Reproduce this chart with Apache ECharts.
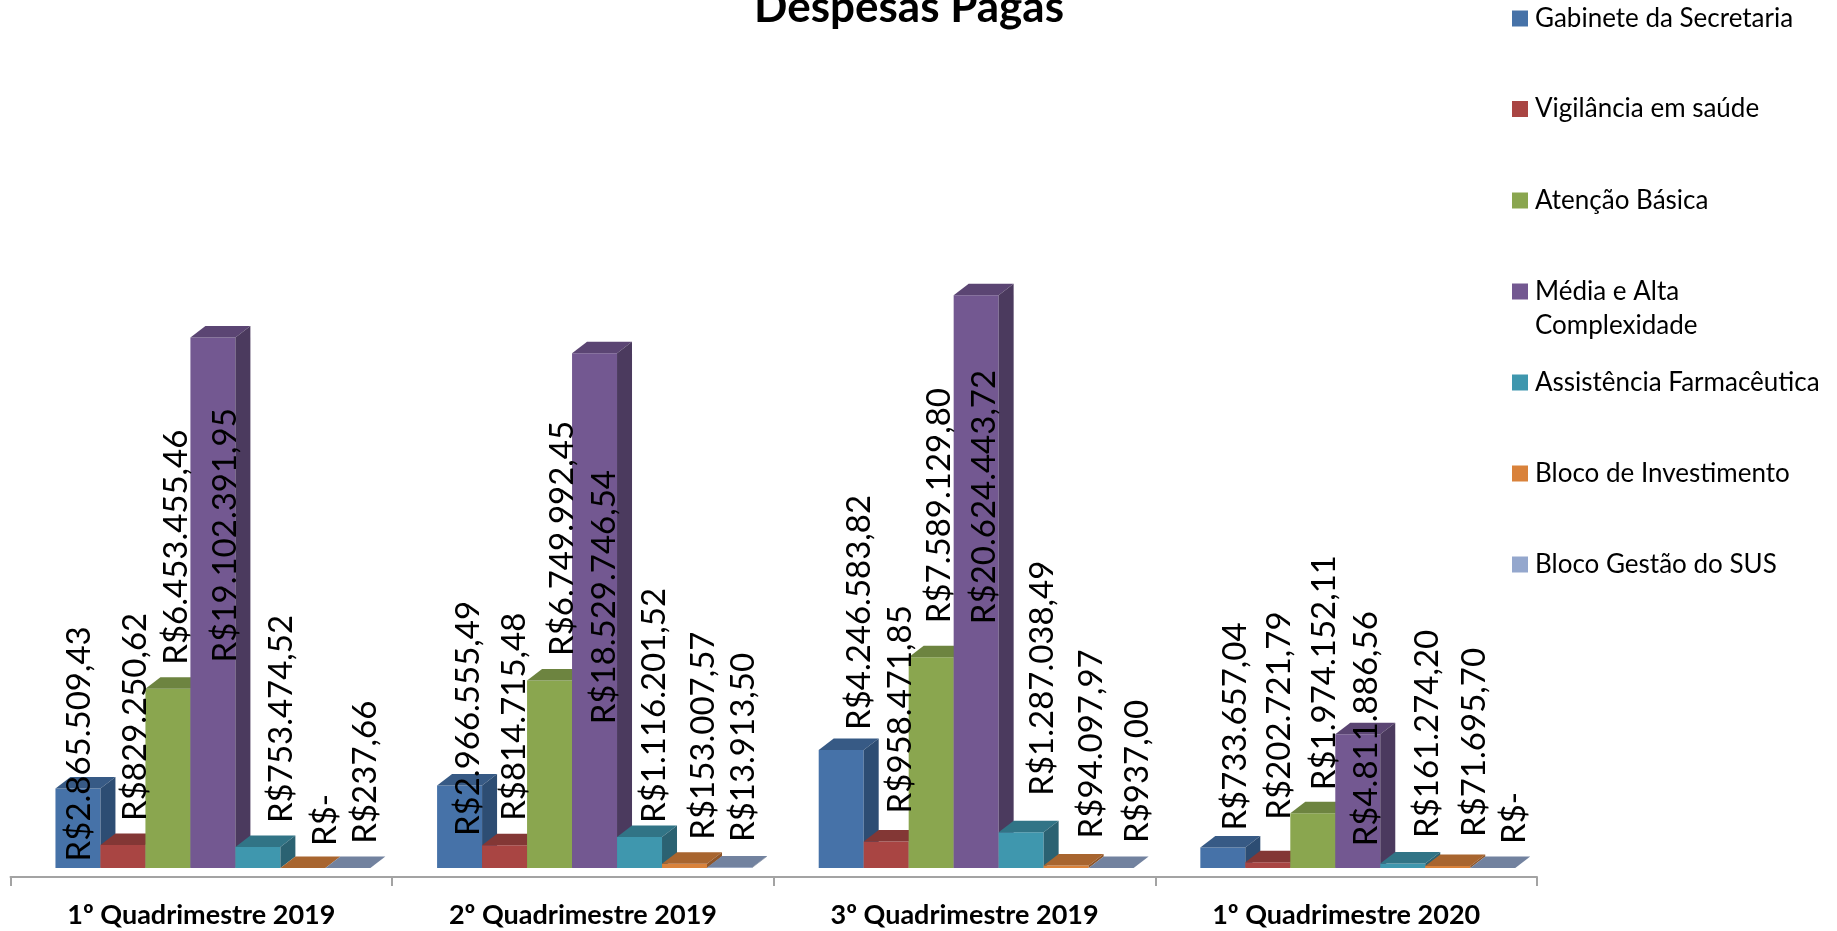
<!DOCTYPE html>
<html><head><meta charset="utf-8">
<style>html,body{margin:0;padding:0;background:#fff;overflow:hidden}#c{width:1837px;height:931px}</style>
<script src="https://cdn.jsdelivr.net/npm/echarts@6/dist/echarts.min.js"></script>
</head><body><div id="c"></div>
<script>
const categories = ['1º Quadrimestre 2019','2º Quadrimestre 2019','3º Quadrimestre 2019','1º Quadrimestre 2020'];
const gabinete = [2865509.43, 2966555.49, 4246583.82, 733657.04];
const vigilancia = [829250.62, 814715.48, 958471.85, 202721.79];
const atencao = [6453455.46, 6749992.45, 7589129.80, 1974152.11];
const media = [19102391.95, 18529746.54, 20624443.72, 4811886.56];
const assistencia = [753474.52, 1116201.52, 1287038.49, 161274.20];
const investimento = [0, 153007.57, 94097.97, 71695.70];
const gestao = [237.66, 13913.50, 937.00, 0];

const names = ['Gabinete da Secretaria','Vigilância em saúde','Atenção Básica','Média e Alta Complexidade','Assistência Farmacêutica','Bloco de Investimento','Bloco Gestão do SUS'];
const values = [gabinete, vigilancia, atencao, media, assistencia, investimento, gestao];

// face colours per series: front, top, side
const faces = [
  ['#4672a8','#375a85','#2d4d73'],
  ['#a94543','#833735','#6f2e2d'],
  ['#8aa64f','#6d8440','#5d7036'],
  ['#735891','#5b4573','#4b3a5e'],
  ['#3f97ae','#317486','#2b6272'],
  ['#d9823b','#a8652f','#8f5528'],
  ['#94a7cd','#72829f','#5f6d85']
];
// hand placement of each value label, relative to its bar: [dx from bar centre, dy from bar top]
const labelNudge = [
  [[-1.5,70],[6,47.5],[16,-23],[9.7,-20]],
  [[9.5,-27],[7,-27.5],[12,-31],[8.7,-45.7]],
  [[6,-27],[10,-27.5],[5.5,-37],[9,-26]],
  [[9.5,322],[7,368],[5.5,326],[5.7,109]],
  [[21,-27],[12,-17],[19,-39.5],[22,-28.5]],
  [[19.5,-25],[16,-27],[22.5,-30],[23.7,-32]],
  [[14.5,-27.3],[11,-28.6],[23.5,-28],[18.7,-27]]
];
const FONT = 'Lato';
function brl(v){
  if(!v) return 'R$-';
  const [i,d] = v.toFixed(2).split('.');
  return 'R$' + i.replace(/\B(?=(\d{3})+$)/g,'.') + ',' + d;
}
function renderBar(s){
  return function(params, api){
    const c = api.value(0), v = api.value(1);
    const base = api.coord([c,0]), top = api.coord([c,v]);
    const cat = api.size([1,0])[0];
    const w = cat/8.483, dx = w/3, dy = 11.5;
    const left = base[0] - 3.5*w + 11.6 + s*w, right = left + w, y0 = base[1], y1 = top[1];
    const f = faces[s], nudge = labelNudge[s][c];
    return {type:'group',children:[
      {type:'polygon',z2:s*3+1,shape:{points:[[left,y0],[right,y0],[right,y1],[left,y1]]},style:{fill:f[0]}},
      {type:'polygon',z2:s*3+2,shape:{points:[[left,y1],[right,y1],[right+dx,y1-dy],[left+dx,y1-dy]]},style:{fill:f[1]}},
      {type:'polygon',z2:s*3+2,shape:{points:[[right,y0],[right+dx,y0-dy],[right+dx,y1-dy],[right,y1]]},style:{fill:f[2]}},
      {type:'text',z2:100,x:left+w/2+nudge[0]+2.5,y:y1+nudge[1]+3,rotation:Math.PI/2,
        style:{text:brl(v),fill:'#000',font:'33px '+FONT,textAlign:'left',textVerticalAlign:'middle'}}
    ]};
  };
}
const chart = echarts.init(document.getElementById('c'),null,{renderer:'canvas'});
const LINE = 34.5;
const centers = [18.5,109,200.5,291.5,382.5,473.5,564.5];
const legends = names.map((n,i)=>({
  data:[n], left:1512, top: i===3 ? centers[i]-LINE*1.5 : centers[i]-LINE/2,
  orient:'vertical', itemWidth:16, itemHeight:16, itemGap:0, padding:0,
  icon:'rect', selectedMode:false,
  formatter: i===3 ? '\nMédia e Alta\nComplexidade' : '{name}',
  textStyle: {fontFamily:FONT,fontSize:26,color:'#000',lineHeight:LINE,padding:[0,0,0,2]}
}));
chart.setOption({
  animation:false,
  backgroundColor:'#fff',
  title:{text:'Despesas Pagas',left:904,top:-19,textAlign:'center',
    textStyle:{fontFamily:FONT,fontWeight:'bold',fontSize:44,color:'#000'}},
  legend:legends,
  grid:{left:10.5,right:300,top:0,bottom:63},
  xAxis:{type:'category',data:categories,offset:9,
    axisLine:{show:true,onZero:false,lineStyle:{color:'#a3a3a3',width:2}},
    axisTick:{show:true,length:9,alignWithLabel:false,lineStyle:{color:'#a3a3a3',width:2}},
    axisLabel:{fontFamily:FONT,fontWeight:'bold',fontSize:27,color:'#000',margin:25,interval:0}},
  yAxis:{type:'value',min:0,max:31250000,show:false},
  series:names.map((n,s)=>({
    type:'custom',name:n,
    itemStyle:{color:faces[s][0]},
    data:values[s].map((v,c)=>[c,v]),
    encode:{x:0,y:1},
    renderItem:renderBar(s)
  }))
});
</script></body></html>
